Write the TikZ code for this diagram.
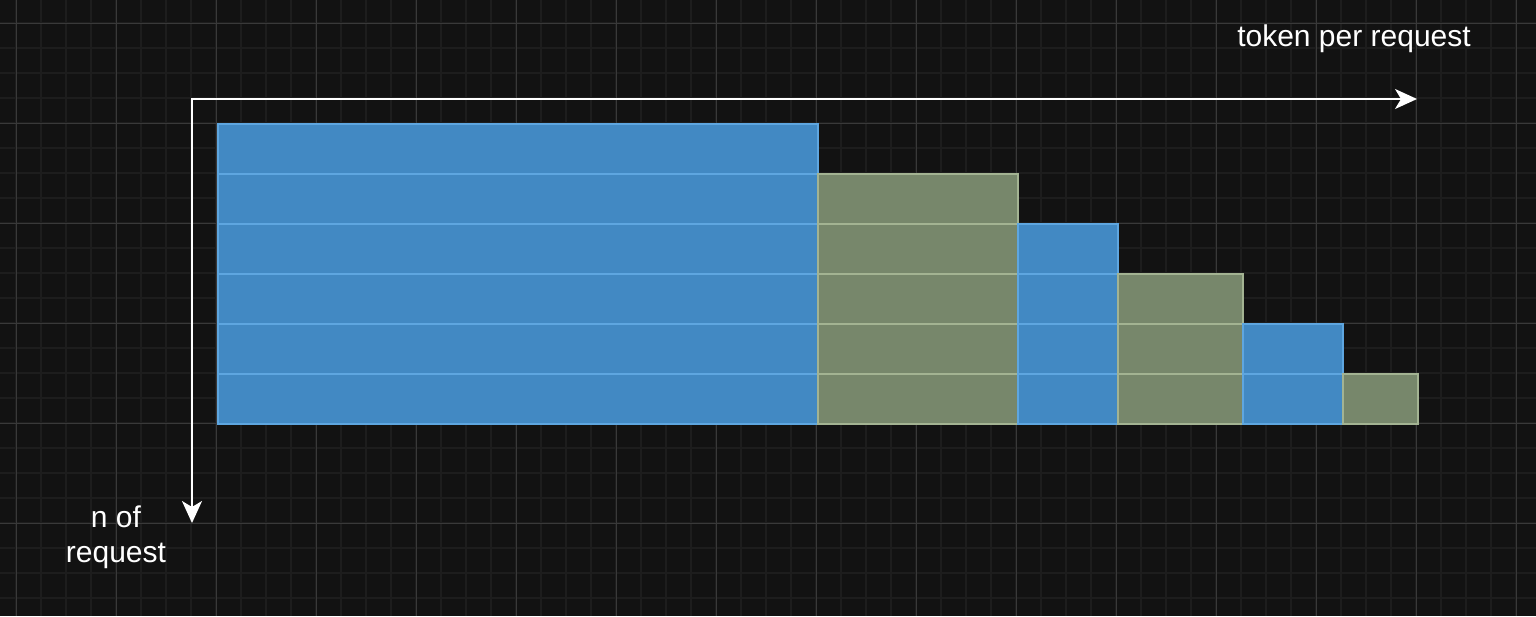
\documentclass[tikz,border=0pt]{standalone}
\usepackage{fontspec}
\setmainfont{Liberation Sans}
\usetikzlibrary{arrows.meta}
\definecolor{bg}{HTML}{121212}
\definecolor{gminor}{HTML}{1D1D1D}
\definecolor{gmajor}{HTML}{393939}
\definecolor{bfill}{HTML}{4289C3}
\definecolor{bline}{HTML}{5EA6E0}
\definecolor{gfill}{HTML}{77876B}
\definecolor{gline}{HTML}{A3B392}
\tikzset{
  minorline/.style={gminor,line width=1.2pt},
  majorline/.style={gmajor,line width=1pt},
  cellbase/.style={anchor=north west,inner sep=0pt,minimum height=50pt,line width=2pt},
  bluecell/.style={cellbase,fill=bfill,draw=bline},
  greencell/.style={cellbase,fill=gfill,draw=gline},
  axis/.style={white,line width=2pt,{Stealth[length=22pt,width=20pt,inset=6pt]}-{Stealth[length=22pt,width=20pt,inset=6pt]}},
  label/.style={white,font=\fontsize{30}{35}\selectfont,inner sep=0pt,align=center}
}
\begin{document}
\begin{tikzpicture}[x=1pt,y=-1pt]
\fill[bg] (0,0) rectangle (1536,616);
\useasboundingbox (0,0) rectangle (1536,616);
% grid
\foreach \k in {0,...,61} {\draw[minorline] ({16+25*\k-25},0) -- ({16+25*\k-25},616);}
\foreach \k in {0,...,25} {\draw[minorline] (0,{23+25*\k-25}) -- (1536,{23+25*\k-25});}
\foreach \k in {0,...,15} {\draw[majorline] ({16+100*\k},0) -- ({16+100*\k},616);}
\foreach \k in {0,...,5} {\draw[majorline] (0,{23+100*\k}) -- (1536,{23+100*\k});}
% cells
\foreach \r in {1,...,6} {\node[bluecell,minimum width=600pt] (a\r) at (217,{123+50*(\r-1)}) {};}
\foreach \r in {2,...,6} {\node[greencell,minimum width=200pt] (b\r) at (817,{123+50*(\r-1)}) {};}
\foreach \r in {3,...,6} {\node[bluecell,minimum width=100pt] (c\r) at (1017,{123+50*(\r-1)}) {};}
\foreach \r in {4,...,6} {\node[greencell,minimum width=125pt] (d\r) at (1117,{123+50*(\r-1)}) {};}
\foreach \r in {5,...,6} {\node[bluecell,minimum width=100pt] (e\r) at (1242,{123+50*(\r-1)}) {};}
\node[greencell,minimum width=75pt] (f6) at (1342,373) {};
% axes
\coordinate (corner) at (192,99);
\coordinate (vtip) at (192,523);
\coordinate (htip) at (1417,99);
\draw[axis] (vtip) -- (corner) -- (htip);
\node[label,anchor=base] (xlab) at (1354,46) {token per request};
\node[label,anchor=base] (ylab) at (116,562) {n of\\request};
\end{tikzpicture}
\end{document}
